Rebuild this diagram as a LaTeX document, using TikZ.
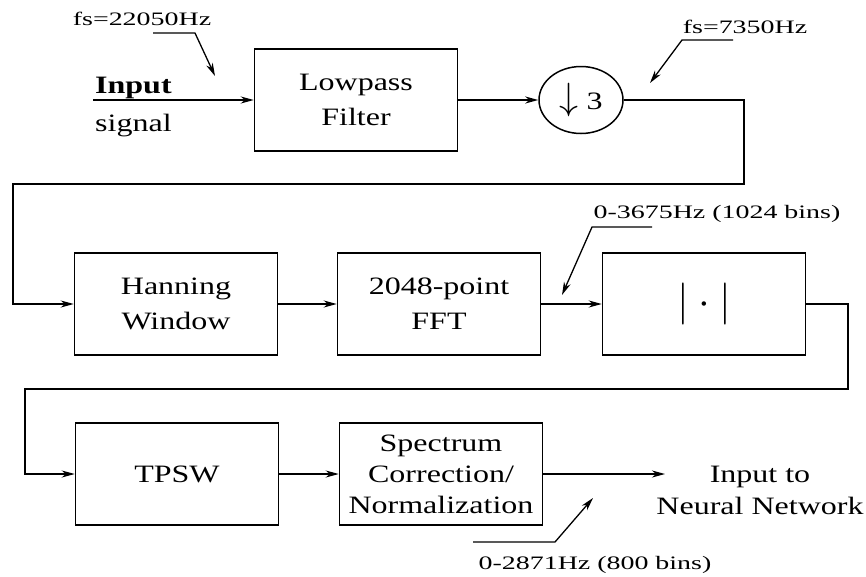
\RequirePackage{fix-cm}
\documentclass[tikz,border=0pt]{standalone}
\usepackage{fontspec}
\setmainfont{Liberation Serif}
\newfontfamily\boxfont[FakeStretch=1.28]{Liberation Serif}
\newfontfamily\labfont[FakeStretch=1.47]{Liberation Serif}
\usetikzlibrary{arrows.meta,shapes.geometric}
\begin{document}
\begin{tikzpicture}[x=1pt,y=-1pt,
  blk/.style={draw, line width=1.5pt, minimum width=203pt, minimum height=102pt,
    inner sep=0pt, align=center, font=\boxfont\fontsize{25}{35}\selectfont},
  arr/.style={line width=1.5pt, -{Stealth[length=13pt,width=7pt,inset=4pt]}},
  lead/.style={line width=1.3pt, -{Stealth[length=13pt,width=7pt,inset=4pt]}},
  lab/.style={font=\labfont\fontsize{19}{22}\selectfont, inner sep=0pt, anchor=base},
  txt/.style={font=\boxfont\fontsize{25}{32}\selectfont, inner sep=0pt, align=center}]
\useasboundingbox (0,0) rectangle (866,576);

% blocks
\node[blk] (lpf) at (356,100) {Lowpass\\Filter};
\node[draw, ellipse, line width=1.5pt, minimum width=84pt, minimum height=67pt, inner sep=0pt,
  font=\boxfont\fontsize{25}{30}\selectfont] (down) at (581,100)
  {{\fontsize{38}{38}\selectfont$\downarrow$}\hspace{8pt}3};
\node[blk] (ham) at (176,304) {Hanning\\Window};
\node[blk] (fft) at (439,304) {2048-point\\FFT};
\node[blk] (absn) at (704,304) {\fontsize{42}{42}\selectfont$|\mkern4mu{\cdot}\mkern4mu|$};
\node[blk] (tpsw) at (177,474) {TPSW};
\node[blk, font=\boxfont\fontsize{25}{31}\selectfont] (spec) at (441,474) {Spectrum\\Correction/\\Normalization};

% input text
\node[txt, anchor=base west] (inp) at (95,93) {\bfseries Input};
\node[txt, anchor=base west] (sig) at (95,131) {signal};
\coordinate (inS) at (93,100);
\node[txt] (outT) at (760,490) {Input to\\Neural Network};
\coordinate (outTip) at (665,474);

% connectors
\draw[arr] (inS) -- (lpf.west);
\draw[arr] (lpf.east) -- (down.west);
\draw[arr] (down.east) -| (744,184) -| (13,304) -- (ham.west);
\draw[arr] (ham.east) -- (fft.west);
\draw[arr] (fft.east) -- (absn.west);
\draw[arr] (absn.east) -| (848,389) -| (25,474) -- (tpsw.west);
\draw[arr] (tpsw.east) -- (spec.west);
\draw[arr] (spec.east) -- (outTip);

% labels with leaders
\node[lab] (l1) at (142,25) {fs=22050Hz};
\coordinate (l1a) at (153,33); \coordinate (l1t) at (215,76);
\draw[lead] (l1a) -- (195,33) -- (l1t);

\node[lab] (l2) at (745,33) {fs=7350Hz};
\coordinate (l2a) at (733,40); \coordinate (l2t) at (650,83);
\draw[lead] (l2a) -- (682,40) -- (l2t);

\node[lab] (l3) at (717,218) {0-3675Hz (1024 bins)};
\coordinate (l3a) at (652,227); \coordinate (l3t) at (562,295);
\draw[lead] (l3a) -- (592,227) -- (l3t);

\node[lab] (l4) at (595,569) {0-2871Hz (800 bins)};
\coordinate (l4a) at (473,542); \coordinate (l4t) at (593,498);
\draw[lead] (l4a) -- (555,542) -- (l4t);
\end{tikzpicture}
\end{document}
